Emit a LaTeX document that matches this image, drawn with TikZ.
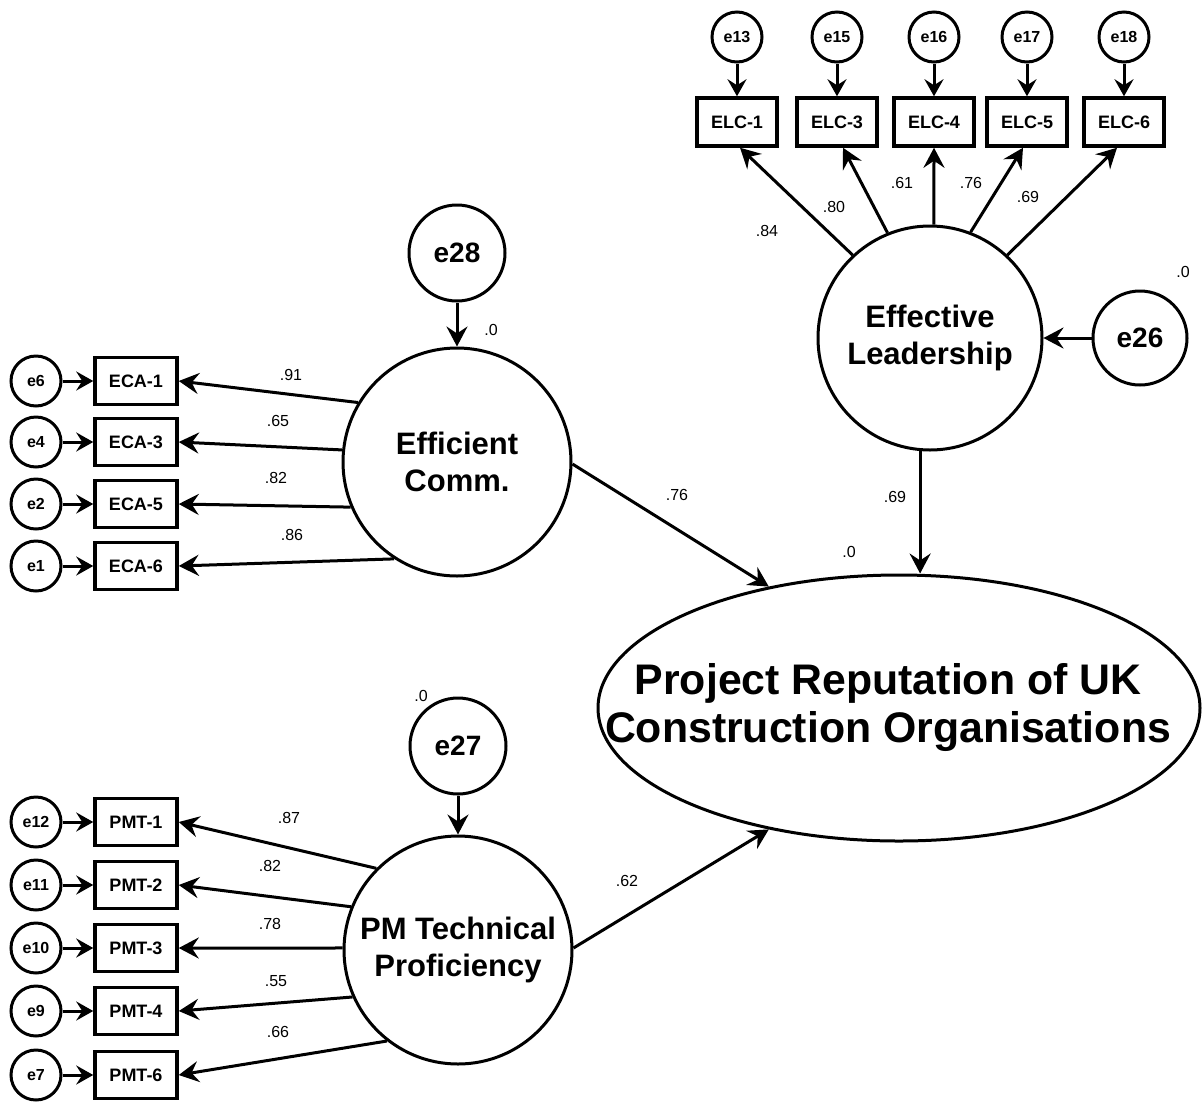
\documentclass[tikz,border=0pt]{standalone}
\usepackage{fontspec}
\setmainfont{Liberation Sans}
\usetikzlibrary{shapes.geometric,arrows.meta}

\tikzset{
  latent/.style={circle,draw,line width=3pt,inner sep=0pt,minimum size=228pt,align=center,
    font=\fontsize{31}{37}\selectfont\bfseries},
  bigerr/.style={circle,draw,line width=3pt,inner sep=0pt,minimum size=96pt,
    font=\fontsize{28}{32}\selectfont\bfseries},
  smallerr/.style={circle,draw,line width=3pt,inner sep=0pt,minimum size=50pt,
    font=\fontsize{16}{18}\selectfont\bfseries},
  indic/.style={rectangle,draw,line width=3.5pt,inner sep=0pt,minimum width=82pt,minimum height=47pt,
    font=\fontsize{18}{20}\selectfont\bfseries},
  outcome/.style={ellipse,draw,line width=3pt,inner sep=0pt,minimum width=602pt,minimum height=266pt},
  outtext/.style={inner sep=0pt,align=center,font=\fontsize{42.8}{48}\selectfont\bfseries},
  coef/.style={inner sep=0pt,font=\fontsize{16}{18}\selectfont},
  path/.style={line width=3pt,-{Stealth[length=20pt,width=21pt,inset=7pt]}},
  errpath/.style={line width=3pt,-{Stealth[length=17pt,width=19pt,inset=6pt]}},
}

\begin{document}
\begin{tikzpicture}[x=1pt,y=-1pt]
\useasboundingbox (0,0) rectangle (1203,1104);

% latent constructs
\node[latent] (ec) at (457,462) {Efficient\\Comm.};
\node[latent] (pm) at (458,950) {PM Technical\\Proficiency};
\node[latent,minimum size=224pt] (el) at (930,338) {Effective\\Leadership};
\node[outcome] (pr) at (899,708) {};
\node[outtext] (prtext) at ([xshift=-11pt]pr.center) {Project Reputation of UK\\Construction Organisations};

% disturbance terms
\node[bigerr] (e28) at (457,253) {e28};
\node[bigerr] (e27) at (458,746) {e27};
\node[bigerr,minimum size=94pt] (e26) at (1140,338) {e26};

% Efficient Comm. indicators
\foreach \n/\e/\y in {1/e6/381, 3/e4/442, 5/e2/504, 6/e1/566}{
  \node[indic] (eca\n) at (136,\y) {ECA-\n};
  \node[smallerr] (err-eca\n) at (36,\y) {\e};
  \draw[errpath] (err-eca\n) -- (eca\n);
}

% PM Technical Proficiency indicators
\foreach \n/\e/\y in {1/e12/822, 2/e11/885, 3/e10/948, 4/e9/1011, 6/e7/1075}{
  \node[indic] (pmt\n) at (136,\y) {PMT-\n};
  \node[smallerr] (err-pmt\n) at (36,\y) {\e};
  \draw[errpath] (err-pmt\n) -- (pmt\n);
}

% Effective Leadership indicators
\foreach \n/\e/\x in {1/e13/737, 3/e15/837, 4/e16/934, 5/e17/1027, 6/e18/1124}{
  \node[indic,minimum width=80pt,minimum height=48pt] (elc\n) at (\x,122) {ELC-\n};
  \node[smallerr] (err-elc\n) at (\x,37) {\e};
  \draw[errpath] (err-elc\n) -- (elc\n);
}

% loadings: Efficient Comm.
\draw[path] (ec.149)   -- (eca1.east);
\draw[path] (ec.174)   -- (eca3.east);
\draw[path] (ec.203)   -- (eca5.east);
\draw[path] (ec.237.5) -- (eca6.east);
\node[coef] at (291,375) {.91};
\node[coef] at (278,421) {.65};
\node[coef] at (276,478) {.82};
\node[coef] at (292,535) {.86};

% loadings: PM Technical Proficiency
\draw[path] (pm.135) -- (pmt1.east);
\draw[path] (pm.158) -- (pmt2.east);
\draw[path] (pm.179) -- (pmt3.east);
\draw[path] (pm.204) -- (pmt4.east);
\draw[path] (pm.232) -- (pmt6.east);
\node[coef] at (289,818) {.87};
\node[coef] at (270,866) {.82};
\node[coef] at (270,924) {.78};
\node[coef] at (276,981) {.55};
\node[coef] at (278,1032) {.66};

% loadings: Effective Leadership
\draw[path] (el.133) -- ([xshift=3pt]elc1.south);
\draw[path] (el.112) -- ([xshift=6pt]elc3.south);
\draw[path] (el.88)  -- (elc4.south);
\draw[path] (el.69)  -- ([xshift=-4pt]elc5.south);
\draw[path] (el.47)  -- ([xshift=-7pt]elc6.south);
\node[coef] at (767,231) {.84};
\node[coef] at (834,207) {.80};
\node[coef] at (902,183) {.61};
\node[coef] at (971,183) {.76};
\node[coef] at (1028,197) {.69};

% disturbances
\draw[path] (e28) -- (ec);
\draw[path] (e27) -- (pm);
\draw[path] (e26) -- (el);
\node[coef] at (491,330) {.0};
\node[coef] at (421,696) {.0};
\node[coef] at (1183,272) {.0};
\node[coef] at (849,552) {.0};

% structural paths
\draw[path] (ec.-1) -- (pr.137.4);
\draw[path] (pm.1)  -- (pr.223.4);
\draw[path] (el.265) -- (pr.north -| el.265);
\node[coef] at (677,495) {.76};
\node[coef] at (627,881) {.62};
\node[coef] at (895,497) {.69};
\end{tikzpicture}
\end{document}
